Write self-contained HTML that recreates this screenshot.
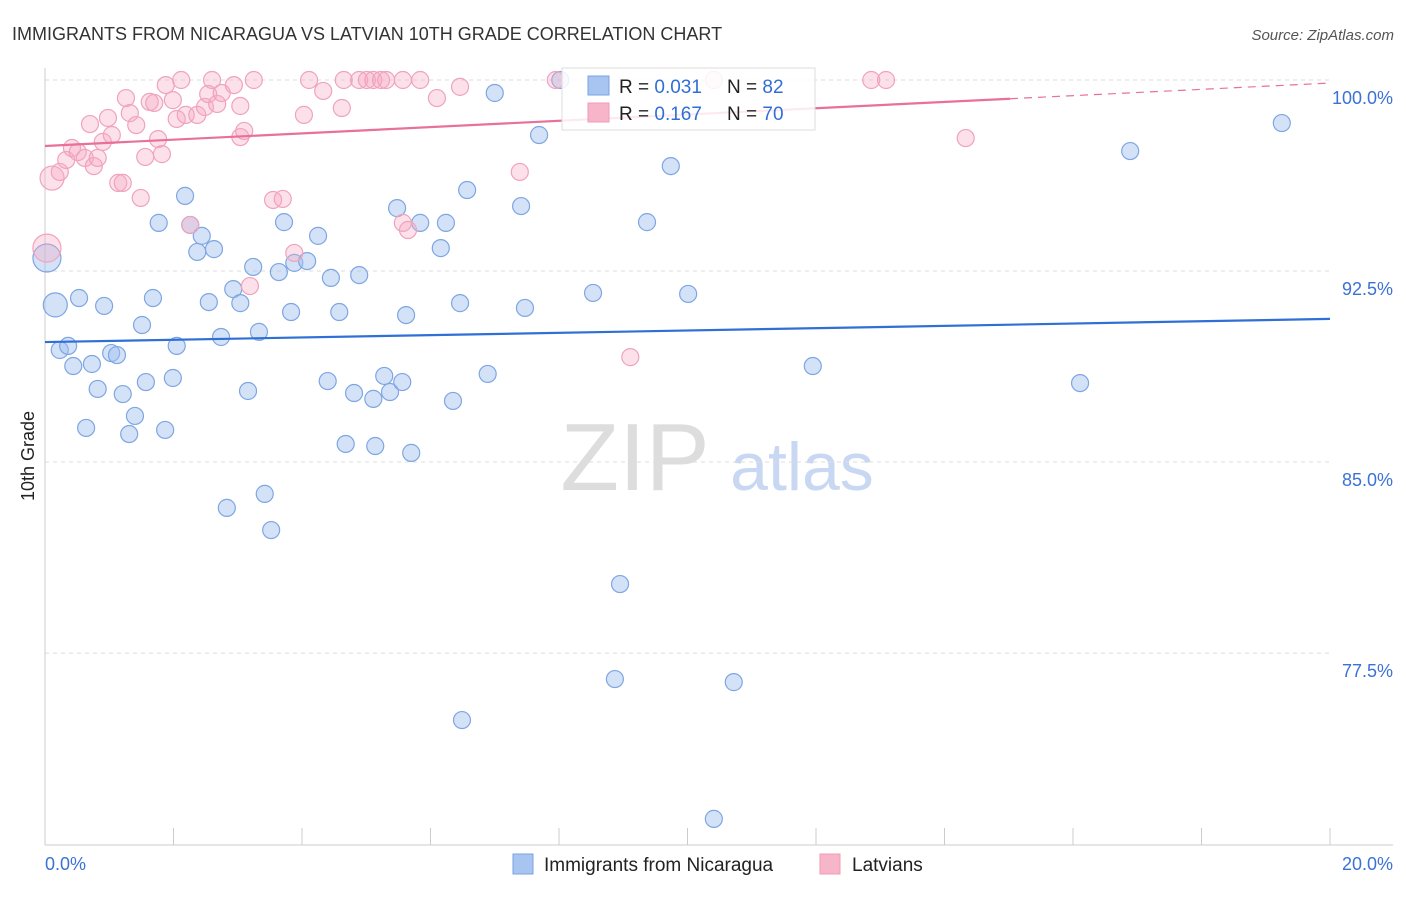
<!DOCTYPE html>
<html><head><meta charset="utf-8"><style>
body{margin:0;background:#fff;font-family:"Liberation Sans",sans-serif;}
svg text{font-family:"Liberation Sans",sans-serif;}
</style></head><body>
<svg id="c" width="1406" height="892">
<text x="12" y="40" font-size="18" fill="#333">IMMIGRANTS FROM NICARAGUA VS LATVIAN 10TH GRADE CORRELATION CHART</text>
<text x="1394" y="40" font-size="15" fill="#555" font-style="italic" text-anchor="end">Source: ZipAtlas.com</text>
<text x="635" y="490" font-size="96" fill="#ddd" font-family="Liberation Serif" text-anchor="middle">ZIP</text>
<text x="802" y="490" font-size="68" fill="#c9d8f2" text-anchor="middle">atlas</text>
<text transform="translate(34,456) rotate(-90)" font-size="18" fill="#222" text-anchor="middle">10th Grade</text>
<g id="grid"></g><g id="axes"></g><g id="pts"></g><g id="lines"></g>
<g>
<rect x="562" y="68" width="253" height="62" fill="#fff" fill-opacity="0.85" stroke="#ddd"/>
<rect x="588" y="76" width="21" height="19" fill="#a8c4f0" stroke="#7aa3e0"/>
<rect x="588" y="103" width="21" height="19" fill="#f7b5c9" stroke="#f09ab5"/>
<text x="619" y="93" font-size="19" fill="#222">R = <tspan fill="#2f6fd6">0.031</tspan></text>
<text x="727" y="93" font-size="19" fill="#222">N = <tspan fill="#2f6fd6">82</tspan></text>
<text x="619" y="120" font-size="19" fill="#222">R = <tspan fill="#2f6fd6">0.167</tspan></text>
<text x="727" y="120" font-size="19" fill="#222">N = <tspan fill="#2f6fd6">70</tspan></text>
</g>
<g>
<rect x="513" y="854" width="20" height="20" fill="#a8c4f0" stroke="#7aa3e0"/>
<text x="544" y="871" font-size="19" fill="#222">Immigrants from Nicaragua</text>
<rect x="820" y="854" width="20" height="20" fill="#f7b5c9" stroke="#f09ab5"/>
<text x="852" y="871" font-size="19" fill="#222">Latvians</text>
</g>
</svg>
<script>
const yTicks=[77.5,85.0,92.5,100.0];
const xTickVals=[0,2,4,6,8,10,12,14,16,18,20];
const blueX=[0.03,0.16,0.23,0.36,0.44,0.53,0.64,0.73,0.82,0.92,1.03,1.12,1.21,1.31,1.40,1.51,1.57,1.68,1.77,1.87,1.99,2.05,2.18,2.26,2.37,2.44,2.55,2.63,2.74,2.83,2.93,3.04,3.16,3.24,3.33,3.42,3.52,3.64,3.72,3.83,3.88,4.08,4.25,4.40,4.45,4.58,4.68,4.81,4.89,5.11,5.14,5.28,5.37,5.48,5.56,5.62,5.70,5.84,6.16,6.24,6.35,6.46,6.57,6.89,7.00,7.41,7.47,7.69,8.02,8.53,8.95,8.87,9.37,9.74,10.01,10.41,10.72,11.95,16.11,16.89,19.25,6.49];
const blueY=[93.01,91.17,89.40,89.56,88.77,91.44,86.34,88.85,87.87,91.13,89.28,89.20,87.67,86.10,86.81,90.38,88.14,91.44,94.39,86.26,88.30,89.56,95.45,94.31,93.25,93.88,91.28,93.36,89.91,83.20,91.79,91.24,87.79,92.66,90.11,83.75,82.33,92.46,94.42,90.89,92.82,92.89,93.88,88.18,92.23,90.89,85.71,87.71,92.34,87.48,85.63,88.38,87.75,94.97,88.14,90.77,85.36,94.39,93.40,94.39,87.40,91.24,95.68,88.46,99.49,95.05,91.05,97.84,100,91.64,80.21,76.48,94.42,96.62,91.60,70.99,76.36,88.77,88.10,97.21,98.31,74.87];
const pinkX=[0.03,0.11,0.23,0.33,0.42,0.51,0.62,0.70,0.76,0.82,0.90,0.98,1.04,1.14,1.21,1.26,1.32,1.42,1.49,1.56,1.63,1.70,1.76,1.82,1.88,1.99,2.05,2.12,2.19,2.26,2.37,2.49,2.54,2.60,2.68,2.75,2.94,3.04,3.04,3.10,3.19,3.25,3.55,3.70,3.88,4.03,4.11,4.33,4.62,4.65,4.89,5.01,5.11,5.23,5.31,5.57,5.65,5.57,5.84,6.10,6.46,7.39,7.95,9.11,10.41,12.86,13.09,14.33];
const pinkY=[93.40,96.15,96.39,96.86,97.33,97.17,96.94,98.27,96.62,96.94,97.57,98.51,97.84,95.96,95.96,99.29,98.70,98.23,95.37,96.98,99.14,99.10,97.68,97.09,99.80,99.21,98.47,100,98.63,94.31,98.63,98.94,99.45,100,99.06,99.49,99.80,98.98,97.76,98.00,91.91,100,95.29,95.33,93.21,98.63,100,99.57,98.90,100,100,100,100,100,100,94.39,94.11,100,100,99.29,99.73,96.39,100,89.12,100,100,100,97.72];
const blueTrend=[89.71,90.62];
const pinkTrend=[97.41,99.88];
const pinkSolidEnd=15.02;
const NS='http://www.w3.org/2000/svg';
const X=v=>45+v*(1285/20);
const Y=v=>80+(100-v)*25.47;
function mk(t,a,p){const e=document.createElementNS(NS,t);for(const k in a)e.setAttribute(k,a[k]);p.appendChild(e);return e;}
const g=document.getElementById('grid'),ax=document.getElementById('axes'),pts=document.getElementById('pts'),ln=document.getElementById('lines');
yTicks.forEach(v=>{
 const l=mk('line',{x1:45,x2:1330,y1:Y(v),y2:Y(v),stroke:'#ddd','stroke-dasharray':'4,4'},g);
 
 
 const t=mk('text',{x:1393,y:Y(v)+24,'font-size':18,fill:'#3b72d4','text-anchor':'end'},g);
 t.textContent=v.toFixed(1)+'%';
 
 
});
const yl=mk('line',{x1:45,x2:45,y1:68,y2:845,stroke:'#ccc'},ax);


const xl=mk('line',{x1:45,x2:1393,y1:845,y2:845,stroke:'#ccc'},ax);


xTickVals.forEach(v=>{
 const t=mk('line',{x1:X(v),x2:X(v),y1:828,y2:845,stroke:'#ccc'},ax);
 
 
});
[[0,'0.0%','start',45],[20,'20.0%','end',1393]].forEach(d=>{
 const t=mk('text',{x:d[3],y:870,'font-size':18,fill:'#3b72d4','text-anchor':d[2]},ax);
 t.textContent=d[1];
 
 
});
function dots(xs,ys,fill,stroke,name){
 xs.forEach((x,i)=>{
  const r=(i===0)?14:(x<0.2?12:8.5);
  const c=mk('circle',{cx:X(x),cy:Y(ys[i]),r:r,fill:fill,stroke:stroke,'stroke-width':1.2},pts);
  
  
 });
}
dots(blueX,blueY,'rgba(160,190,240,0.45)','#7ea6e2','point-nicaragua');
dots(pinkX,pinkY,'rgba(246,170,196,0.35)','#f0a3bb','point-latvians');
const bl=mk('line',{x1:X(0),y1:Y(blueTrend[0]),x2:X(20),y2:Y(blueTrend[1]),stroke:'#2f6fd6','stroke-width':2.2},ln);


const pm=pinkTrend[0]+(pinkTrend[1]-pinkTrend[0])*pinkSolidEnd/20;
const pl=mk('line',{x1:X(0),y1:Y(pinkTrend[0]),x2:X(pinkSolidEnd),y2:Y(pm),stroke:'#e8709a','stroke-width':2.2},ln);


const pd=mk('line',{x1:X(pinkSolidEnd),y1:Y(pm),x2:X(20),y2:Y(pinkTrend[1]),stroke:'#e8709a','stroke-width':1.2,'stroke-dasharray':'8,6'},ln);


</script>
</body></html>
